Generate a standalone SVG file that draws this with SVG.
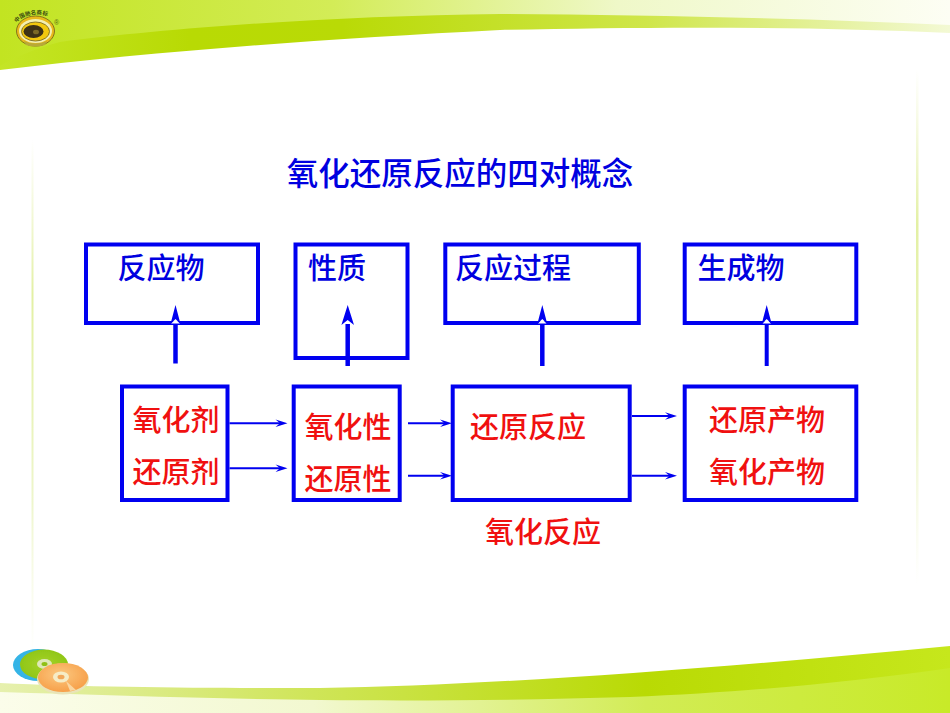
<svg xmlns="http://www.w3.org/2000/svg" width="950" height="713" viewBox="0 0 950 713">
<style>
.b{fill:none;stroke:#0000f0;stroke-width:4}
.t{font-family:"Noto Sans CJK SC","Liberation Sans",sans-serif;font-size:29px;font-weight:500}
.bl{fill:#0000e0}
.r{fill:#f01010}
.sh{stroke:#0000f0;fill:none}
.hd{fill:#0000f0}
.wh{fill:#fff}
</style>
<defs>
<filter id="soft" x="-10%" y="-10%" width="120%" height="120%"><feGaussianBlur stdDeviation="0.7"/></filter>
<linearGradient id="top" x1="0" x2="1" y1="0" y2="0"><stop offset="0" stop-color="#c2e421"/><stop offset=".35" stop-color="#d3ec57"/><stop offset=".65" stop-color="#eff8c8"/><stop offset="1" stop-color="#fdfef4"/></linearGradient>
<linearGradient id="topband" x1="0" x2="1" y1="0" y2="0"><stop offset="0" stop-color="#c4e526"/><stop offset=".2" stop-color="#b8da04"/><stop offset=".36" stop-color="#b9da06"/><stop offset=".68" stop-color="#cfe64a"/><stop offset="1" stop-color="#f3f9d4"/></linearGradient>
<linearGradient id="botband" x1="0" x2="1" y1="0" y2="0"><stop offset="0" stop-color="#e6f0ae"/><stop offset=".33" stop-color="#cfe558"/><stop offset=".68" stop-color="#b9da04"/><stop offset="1" stop-color="#c6e71c"/></linearGradient>
<linearGradient id="bot" x1="0" x2="1" y1="0" y2="0"><stop offset="0" stop-color="#fbfdea"/><stop offset=".33" stop-color="#f2f8d0"/><stop offset=".68" stop-color="#d2ec55"/><stop offset="1" stop-color="#c8ea28"/></linearGradient>
<linearGradient id="vr" x1="0" x2="0" y1="0" y2="1"><stop offset="0" stop-color="#e8f2b4" stop-opacity="0"/><stop offset=".3" stop-color="#e3f0a4"/><stop offset=".7" stop-color="#eef6cc"/><stop offset="1" stop-color="#f5f9dc" stop-opacity="0"/></linearGradient>
<radialGradient id="or" cx=".45" cy=".4" r=".6"><stop offset="0" stop-color="#fbc880"/><stop offset="1" stop-color="#f7a04a"/></radialGradient>
<radialGradient id="gr" cx=".5" cy=".5" r=".6"><stop offset="0" stop-color="#a5d228"/><stop offset="1" stop-color="#8cc414"/></radialGradient>
<path id="arc" d="M17 23C22 13 46 11 54 21"/>
</defs>
<rect width="950" height="713" fill="#fff"/>
<g id="background">
<path d="M0 0H950V33C800 26 640 27 500 30C320 39 150 52 0 70Z" fill="url(#topband)"/>
<path d="M0 0H950V25C800 18 640 15 500 14C330 16 170 28 60 42C30 50 10 60 0 66Z" fill="url(#top)"/>
<path d="M0 683C100 688 230 688 320 688C500 685 720 668 950 646V713H0Z" fill="url(#botband)"/>
<path d="M0 692C100 695 220 699 320 700C430 701 530 700 630 697C750 692 850 682 950 668V713H0Z" fill="url(#bot)"/>
<rect x="31.500" y="140" width="2" height="515" fill="url(#vr)"/>
<rect x="916" y="70" width="2.500" height="515" fill="url(#vr)"/>
</g>
<g id="logo">
<g filter="url(#soft)">
<ellipse cx="35.500" cy="31" rx="19" ry="15" fill="#e9b81a" stroke="#85741a" stroke-width="1"/>
<ellipse cx="35.500" cy="31" rx="16.500" ry="12" fill="#f3efb0"/>
<ellipse cx="35.500" cy="31.500" rx="14" ry="9.500" fill="#f2c810" stroke="#6e6018" stroke-width=".8"/>
<ellipse cx="33.500" cy="31.500" rx="10" ry="6.500" fill="#3c3014"/>
<ellipse cx="36" cy="32" rx="3" ry="2.300" fill="#7b6a28"/>
<path d="M24 41Q35 46 47 41L45 45Q35 48 26 45Z" fill="#b8a838"/>
</g>
<text font-family="'Noto Sans CJK SC',sans-serif" font-size="5.500" font-weight="700" fill="#3a4a10"><textPath href="#arc">中国驰名商标</textPath></text>
<text x="56.500" y="25" text-anchor="middle" font-family="'Liberation Sans',sans-serif" font-size="7" fill="#5a6a10">®</text>
</g>
<g id="discs">
<g filter="url(#soft)">
<ellipse cx="38" cy="665" rx="25" ry="16" fill="#35b4e6"/>
<ellipse cx="44" cy="664.500" rx="24" ry="15" fill="url(#gr)"/>
<ellipse cx="44.500" cy="664" rx="7.500" ry="5" fill="#dfe8b8"/>
<ellipse cx="44.500" cy="664" rx="3" ry="2" fill="#8fc018"/>
<ellipse cx="63" cy="679" rx="26" ry="15.500" fill="#e9e4b8"/>
<ellipse cx="63" cy="677.500" rx="25" ry="14.500" fill="url(#or)"/>
<path d="M66 681L70 691L76 690Z" fill="#fad6a0"/>
<ellipse cx="61" cy="677" rx="8" ry="5.500" fill="#f6ecc6"/>
<ellipse cx="61" cy="677" rx="3.500" ry="2.300" fill="#f2a75a"/>
</g>
</g>
<text id="title" class="t bl" x="460" y="185" text-anchor="middle" style="font-size:31.500px">氧化还原反应的四对概念</text>
<g id="n1"><rect class="b" x="86" y="244.500" width="172" height="78.500"/><text class="t bl" x="161" y="279" text-anchor="middle">反应物</text></g>
<g id="n2"><rect class="b" x="295.500" y="244.500" width="112" height="113.500"/><text class="t bl" x="337" y="279" text-anchor="middle">性质</text></g>
<g id="n3"><rect class="b" x="445.300" y="244.500" width="193.500" height="78.500"/><text class="t bl" x="513" y="279" text-anchor="middle">反应过程</text></g>
<g id="n4"><rect class="b" x="684.700" y="244.500" width="171.600" height="78.500"/><text class="t bl" x="741" y="279" text-anchor="middle">生成物</text></g>
<g id="n5"><rect class="b" x="122" y="386.500" width="105.500" height="113.500"/><text class="t r" x="176" y="431" text-anchor="middle">氧化剂</text><text class="t r" x="176" y="483" text-anchor="middle">还原剂</text></g>
<g id="n6"><rect class="b" x="293.700" y="386.500" width="106" height="113.500"/><text class="t r" x="348" y="438" text-anchor="middle">氧化性</text><text class="t r" x="348" y="490" text-anchor="middle">还原性</text></g>
<g id="n7"><rect class="b" x="452.700" y="386.500" width="177" height="113.500"/><text class="t r" x="528" y="438" text-anchor="middle">还原反应</text></g>
<text id="n7b" class="t r" x="543" y="543" text-anchor="middle">氧化反应</text>
<g id="n8"><rect class="b" x="684.700" y="386.500" width="171.600" height="113.500"/><text class="t r" x="767" y="431" text-anchor="middle">还原产物</text><text class="t r" x="767" y="483" text-anchor="middle">氧化产物</text></g>
<g id="connectors">
<path class="wh" d="M171 323.500L175.500 319L180 323.500Z"/>
<path class="sh" stroke-width="4.500" d="M175.500 363.500V325"/><path class="hd" d="M175.500 305L180.500 324L175.500 319L170.500 324Z"/>
<path class="sh" stroke-width="4.500" d="M347.700 366V324"/><path class="hd" d="M347.700 305L354 325L347.700 320L341.400 325Z"/>
<path class="wh" d="M538 323.500L542.300 319L546.600 323.500Z"/>
<path class="sh" stroke-width="4.500" d="M542.300 366V325"/><path class="hd" d="M542.300 305L547.300 324L542.300 319L537.300 324Z"/>
<path class="wh" d="M762.500 323.500L766.700 319L771 323.500Z"/>
<path class="sh" stroke-width="4" d="M766.700 366V325"/><path class="hd" d="M766.700 305L771.700 324L766.700 319L761.700 324Z"/>
<path class="sh" stroke-width="2" d="M229.500 423.300H280"/><path class="hd" d="M287.500 423.300L275.500 419.500L280 423.300L275.500 427Z"/>
<path class="sh" stroke-width="2" d="M229.500 468.300H280"/><path class="hd" d="M287.500 468.300L275.500 464.500L280 468.300L275.500 472Z"/>
<path class="sh" stroke-width="2" d="M408 423.300H445"/><path class="hd" d="M452 423.300L440 419.500L444.500 423.300L440 427Z"/>
<path class="sh" stroke-width="2" d="M408 475.700H445"/><path class="hd" d="M452 475.700L440 472L444.500 475.700L440 479.500Z"/>
<path class="sh" stroke-width="2" d="M632 416H670"/><path class="hd" d="M677 416L665 412.200L669.500 416L665 419.800Z"/>
<path class="sh" stroke-width="2" d="M632 475.700H670"/><path class="hd" d="M677 475.700L665 472L669.500 475.700L665 479.500Z"/>
</g>
</svg>
